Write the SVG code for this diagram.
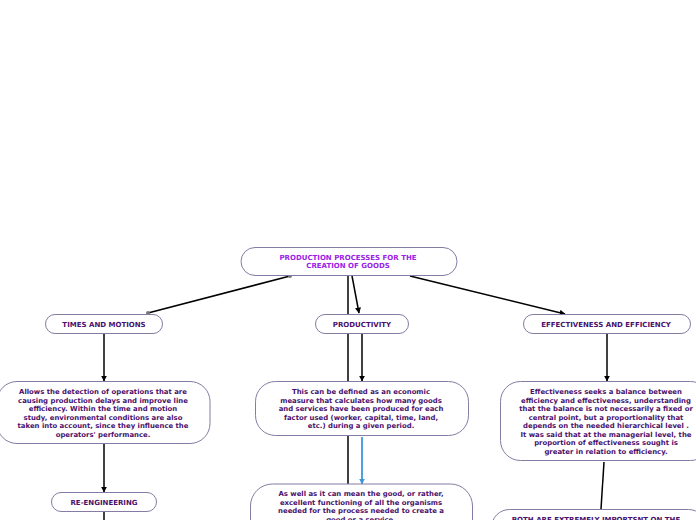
<svg xmlns="http://www.w3.org/2000/svg" width="696" height="520" viewBox="0 0 696 520">
<defs>
<style>
.box{fill:#fff;stroke:#857ba3;stroke-width:1}
.t{font-family:"DejaVu Sans","Verdana",sans-serif;font-weight:bold;font-size:6.9px;fill:#4a0f6b;text-anchor:middle}
.h{font-size:7px}
.title{fill:#9a22e6}
.c{stroke:#000;stroke-width:1.5;fill:none}
</style>
<marker id="a" viewBox="0 0 10 10" refX="9" refY="5" markerWidth="6" markerHeight="6" orient="auto" markerUnits="userSpaceOnUse"><path d="M0,0 L10,5 L0,10 z" fill="#000"/></marker>
<marker id="ab" viewBox="0 0 10 10" refX="9" refY="5" markerWidth="6" markerHeight="6" orient="auto" markerUnits="userSpaceOnUse"><path d="M0,0 L10,5 L0,10 z" fill="#3a9ad9"/></marker>
</defs>
<rect width="696" height="520" fill="#fff"/>
<g id="connectors">
<line class="c" x1="290" y1="276" x2="148" y2="313"/>
<circle cx="290" cy="276" r="2" fill="#777"/>
<circle cx="148" cy="313" r="2" fill="#777"/>
<line class="c" x1="352" y1="276" x2="359" y2="313" marker-end="url(#a)"/>
<line class="c" x1="410" y1="276" x2="565" y2="314" marker-end="url(#a)"/>
<line class="c" x1="348" y1="276" x2="348" y2="484"/>
<line class="c" x1="104" y1="334" x2="104" y2="381" marker-end="url(#a)"/>
<line class="c" x1="362" y1="334" x2="362" y2="381" marker-end="url(#a)"/>
<line class="c" x1="607" y1="334" x2="607" y2="381" marker-end="url(#a)"/>
<line x1="362" y1="437" x2="362" y2="484" stroke="#3a9ad9" stroke-width="1.8" marker-end="url(#ab)"/>
<line class="c" x1="104" y1="444" x2="104" y2="492" marker-end="url(#a)"/>
<line class="c" x1="104" y1="511" x2="104" y2="520"/>
<line class="c" x1="604" y1="462" x2="601" y2="509"/>
</g>
<g id="title">
<rect class="box" x="241" y="247.5" width="216" height="28" rx="14"/>
<text class="t h title" x="348" y="259.5">PRODUCTION PROCESSES FOR THE</text>
<text class="t h title" x="348" y="268">CREATION OF GOODS</text>
</g>
<g id="times">
<rect class="box" x="45.5" y="314.5" width="117" height="19" rx="9.5"/>
<text class="t h" x="104" y="326.5">TIMES AND MOTIONS</text>
</g>
<g id="productivity">
<rect class="box" x="315.5" y="314.5" width="93" height="19" rx="9.5"/>
<text class="t h" x="362" y="326.5">PRODUCTIVITY</text>
</g>
<g id="effectiveness">
<rect class="box" x="523.5" y="314.5" width="167" height="19" rx="9.5"/>
<text class="t h" x="606" y="326.5">EFFECTIVENESS AND EFFICIENCY</text>
</g>
<g id="times-desc">
<rect class="box" x="-3" y="381.5" width="213" height="62" rx="20"/>
<text class="t" x="103" y="394">Allows the detection of operations that are</text>
<text class="t" x="103" y="402.5">causing production delays and improve line</text>
<text class="t" x="103" y="411">efficiency. Within the time and motion</text>
<text class="t" x="103" y="419.5">study, environmental conditions are also</text>
<text class="t" x="103" y="428">taken into account, since they influence the</text>
<text class="t" x="103" y="436.5">operators' performance.</text>
</g>
<g id="productivity-desc">
<rect class="box" x="255.5" y="381.5" width="213" height="54" rx="20"/>
<text class="t" x="361" y="394">This can be defined as an economic</text>
<text class="t" x="361" y="402.5">measure that calculates how many goods</text>
<text class="t" x="361" y="411">and services have been produced for each</text>
<text class="t" x="361" y="419.5">factor used (worker, capital, time, land,</text>
<text class="t" x="361" y="428">etc.) during a given period.</text>
</g>
<g id="effectiveness-desc">
<rect class="box" x="500.5" y="381.5" width="210" height="79" rx="20"/>
<text class="t" x="606" y="394">Effectiveness seeks a balance between</text>
<text class="t" x="606" y="402.5">efficiency and effectiveness, understanding</text>
<text class="t" x="606" y="411">that the balance is not necessarily a fixed or</text>
<text class="t" x="606" y="419.5">central point, but a proportionality that</text>
<text class="t" x="606" y="428">depends on the needed hierarchical level .</text>
<text class="t" x="606" y="436.5">It was said that at the managerial level, the</text>
<text class="t" x="606" y="445">proportion of effectiveness sought is</text>
<text class="t" x="606" y="453.5">greater in relation to efficiency.</text>
</g>
<g id="productivity-desc2">
<rect class="box" x="250.5" y="484" width="222" height="60" rx="22"/>
<text class="t" x="361" y="496">As well as it can mean the good, or rather,</text>
<text class="t" x="361" y="504.5">excellent functioning of all the organisms</text>
<text class="t" x="361" y="513">needed for the process needed to create a</text>
<text class="t" x="361" y="521.5">good or a service.</text>
</g>
<g id="reengineering">
<rect class="box" x="51.5" y="492.5" width="105" height="19" rx="9.5"/>
<text class="t h" x="104" y="504.5">RE-ENGINEERING</text>
</g>
<g id="both">
<rect class="box" x="491.5" y="509.5" width="215" height="40" rx="18"/>
<text class="t h" x="596" y="521.5">BOTH ARE EXTREMELY IMPORTSNT ON THE</text>
</g>
</svg>
